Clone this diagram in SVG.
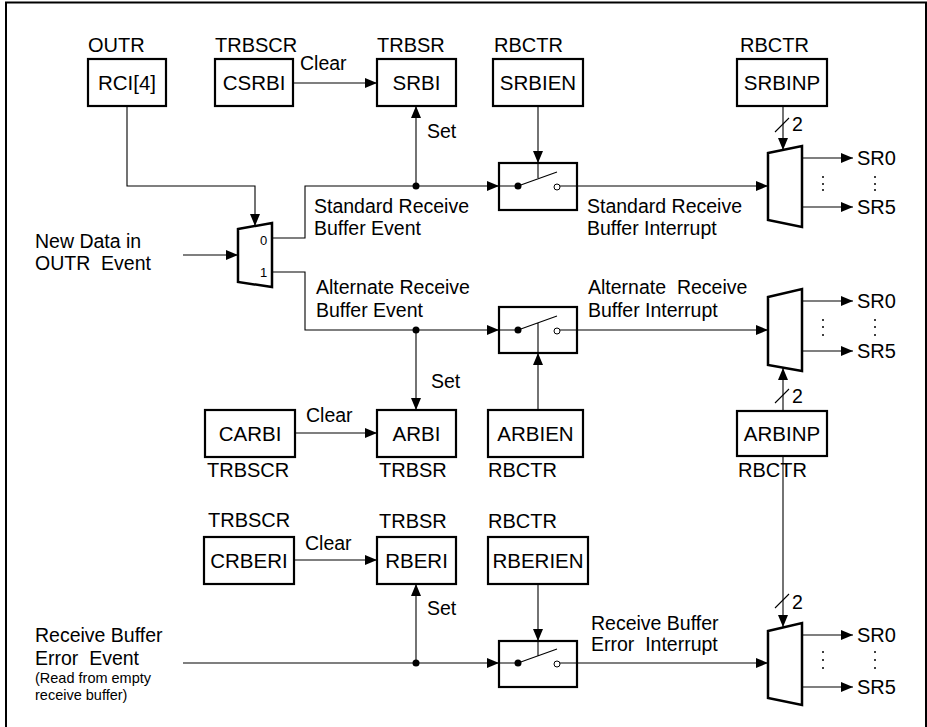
<svg xmlns="http://www.w3.org/2000/svg" width="927" height="727" viewBox="0 0 927 727">
<style>
text{font-family:"Liberation Sans",Arial,sans-serif;font-size:19.5px;fill:#000;white-space:pre}
.c{text-anchor:middle;font-size:20.5px}
.r{font-size:20px}
.s{font-size:14.5px}
.m{font-size:13px}
.box{fill:#fff;stroke:#000;stroke-width:2.2}
.mux{fill:#fff;stroke:#000;stroke-width:2.5;stroke-linejoin:miter}
.ln{fill:none;stroke:#000;stroke-width:1.1}
.ar{fill:none;stroke:#000;stroke-width:1.1;marker-end:url(#ah)}
.dot{fill:#000}
.oc{fill:#fff;stroke:#000;stroke-width:1}
</style>
<defs>
<marker id="ah" viewBox="0 0 12 10" refX="12" refY="5" markerWidth="12" markerHeight="10" markerUnits="userSpaceOnUse" orient="auto">
<path d="M0,0 L12,5 L0,10 z" fill="#000"/>
</marker>
</defs>
<rect x="6" y="2.5" width="920" height="800" fill="#fff" stroke="#000" stroke-width="2"/>

<g id="connectors">
<path class="ar" d="M127,106 V186 H255 V226"/>
<path class="ar" d="M293,83 H377"/>
<path class="ar" d="M272,238 H305 V186 H499"/>
<path class="ar" d="M416,186 V106"/>
<path class="ar" d="M538,106 V163"/>
<path class="ar" d="M560,186 H768"/>
<path class="ar" d="M783,106 V150"/>
<path class="ar" d="M183,255 H238"/>
<path class="ar" d="M272,272 H305 V330 H499"/>
<path class="ar" d="M416,330 V410"/>
<path class="ar" d="M295,433 H377"/>
<path class="ar" d="M538,410 V353"/>
<path class="ar" d="M560,330 H768"/>
<path class="ar" d="M783,411 V368"/>
<path class="ar" d="M783,456 V627"/>
<path class="ar" d="M294,560 H377"/>
<path class="ar" d="M183,663 H499"/>
<path class="ar" d="M416,663 V584"/>
<path class="ar" d="M538,584 V641"/>
<path class="ar" d="M560,663 H768"/>
<path class="ln" d="M775,132 L789,118 M775,403 L789,389 M775,608 L789,594"/>
<circle class="dot" cx="416" cy="186" r="3.5"/>
<circle class="dot" cx="416" cy="330" r="3.5"/>
<circle class="dot" cx="416" cy="663" r="3.5"/>
<text x="300" y="70">Clear</text>
<text x="427" y="138">Set</text>
<text x="306" y="422">Clear</text>
<text x="431" y="388">Set</text>
<text x="305" y="550">Clear</text>
<text x="427" y="615">Set</text>
<text x="792" y="131">2</text>
<text x="792" y="403">2</text>
<text x="792" y="609">2</text>
<text x="314" y="213">Standard Receive</text>
<text x="314" y="235">Buffer Event</text>
<text x="587" y="213">Standard Receive</text>
<text x="587" y="235">Buffer Interrupt</text>
<text x="316" y="294">Alternate Receive</text>
<text x="316" y="317">Buffer Event</text>
<text x="588" y="294">Alternate  Receive</text>
<text x="588" y="317">Buffer Interrupt</text>
<text x="591" y="630">Receive Buffer</text>
<text x="591" y="651">Error  Interrupt</text>
</g>

<g id="input-new-data">
<text x="35" y="248">New Data in</text>
<text x="35" y="270">OUTR  Event</text>
</g>
<g id="input-error">
<text x="35" y="642">Receive Buffer</text>
<text x="35" y="665">Error  Event</text>
<text class="s" x="35" y="683">(Read from empty</text>
<text class="s" x="35" y="700">receive buffer)</text>
</g>

<g id="rci4">
<text class="r" x="88" y="52">OUTR</text>
<rect class="box" x="88" y="59" width="78" height="47"/>
<text class="c" x="127" y="90">RCI[4]</text>
</g>
<g id="csrbi">
<text class="r" x="215" y="52">TRBSCR</text>
<rect class="box" x="215" y="59" width="78" height="47"/>
<text class="c" x="254" y="90">CSRBI</text>
</g>
<g id="srbi">
<text class="r" x="377" y="52">TRBSR</text>
<rect class="box" x="377" y="59" width="79" height="47"/>
<text class="c" x="416.5" y="90">SRBI</text>
</g>
<g id="srbien">
<text class="r" x="494" y="52">RBCTR</text>
<rect class="box" x="493" y="59" width="90" height="47"/>
<text class="c" x="538" y="90">SRBIEN</text>
</g>
<g id="srbinp">
<text class="r" x="740" y="52">RBCTR</text>
<rect class="box" x="737" y="59" width="90" height="47"/>
<text class="c" x="782" y="90">SRBINP</text>
</g>

<g id="mux-in">
<path class="mux" d="M238,229 L272,223 L272,287 L238,282 Z"/>
<text class="m" x="260" y="245">0</text>
<text class="m" x="260" y="277">1</text>
</g>

<g id="switch-std">
<rect class="box" x="499" y="163" width="78" height="47"/>
<path class="ln" d="M499,186 H518 M560,186 H577 M538,163 V178 M518,186 L557,172"/>
<circle class="dot" cx="518" cy="186" r="3.5"/>
<circle class="oc" cx="557" cy="187" r="3"/>
</g>
<g id="switch-alt">
<rect class="box" x="499" y="307" width="78" height="46"/>
<path class="ln" d="M499,330 H518 M560,330 H577 M538,353 V323 M518,330 L557,316"/>
<circle class="dot" cx="518" cy="330" r="3.5"/>
<circle class="oc" cx="557" cy="331" r="3"/>
</g>
<g id="switch-err">
<rect class="box" x="499" y="641" width="78" height="46"/>
<path class="ln" d="M499,663 H518 M560,663 H577 M538,641 V656 M518,663 L557,649"/>
<circle class="dot" cx="518" cy="663" r="3.5"/>
<circle class="oc" cx="557" cy="664" r="3"/>
</g>

<g id="demux-std">
<path class="mux" d="M768,153 L802,146 L802,227 L768,220 Z"/>
<path class="ar" d="M802,158 H853"/>
<path class="ar" d="M802,207 H853"/>
<text class="r" x="857" y="165">SR0</text>
<text class="r" x="857" y="214">SR5</text>
<g class="dot"><circle cx="823" cy="177" r="1"/><circle cx="823" cy="184" r="1"/><circle cx="823" cy="190" r="1"/><circle cx="875" cy="177" r="1"/><circle cx="875" cy="184" r="1"/><circle cx="875" cy="190" r="1"/></g>
</g>
<g id="demux-alt">
<path class="mux" d="M768,297 L802,289 L802,371 L768,365 Z"/>
<path class="ar" d="M802,301 H853"/>
<path class="ar" d="M802,351 H853"/>
<text class="r" x="857" y="308">SR0</text>
<text class="r" x="857" y="358">SR5</text>
<g class="dot"><circle cx="823" cy="320" r="1"/><circle cx="823" cy="327" r="1"/><circle cx="823" cy="335" r="1"/><circle cx="875" cy="320" r="1"/><circle cx="875" cy="327" r="1"/><circle cx="875" cy="335" r="1"/></g>
</g>
<g id="demux-err">
<path class="mux" d="M768,631 L802,623 L802,705 L768,698 Z"/>
<path class="ar" d="M802,635 H853"/>
<path class="ar" d="M802,687 H853"/>
<text class="r" x="857" y="642">SR0</text>
<text class="r" x="857" y="694">SR5</text>
<g class="dot"><circle cx="823" cy="652" r="1"/><circle cx="823" cy="660" r="1"/><circle cx="823" cy="668" r="1"/><circle cx="875" cy="652" r="1"/><circle cx="875" cy="660" r="1"/><circle cx="875" cy="668" r="1"/></g>
</g>

<g id="carbi">
<rect class="box" x="205" y="410" width="90" height="47"/>
<text class="c" x="250" y="441">CARBI</text>
<text class="r" x="207" y="477">TRBSCR</text>
</g>
<g id="arbi">
<rect class="box" x="377" y="410" width="79" height="47"/>
<text class="c" x="416.5" y="441">ARBI</text>
<text class="r" x="379" y="477">TRBSR</text>
</g>
<g id="arbien">
<rect class="box" x="488" y="410" width="95" height="47"/>
<text class="c" x="535.5" y="441">ARBIEN</text>
<text class="r" x="488" y="477">RBCTR</text>
</g>
<g id="arbinp">
<rect class="box" x="737" y="411" width="90" height="45"/>
<text class="c" x="782" y="441">ARBINP</text>
<text class="r" x="738" y="477">RBCTR</text>
</g>

<g id="crberi">
<text class="r" x="208" y="527">TRBSCR</text>
<rect class="box" x="204" y="537" width="90" height="47"/>
<text class="c" x="249" y="568">CRBERI</text>
</g>
<g id="rberi">
<text class="r" x="379" y="528">TRBSR</text>
<rect class="box" x="377" y="537" width="79" height="47"/>
<text class="c" x="416.5" y="568">RBERI</text>
</g>
<g id="rberien">
<text class="r" x="488" y="528">RBCTR</text>
<rect class="box" x="488" y="537" width="100" height="47"/>
<text class="c" x="538" y="568">RBERIEN</text>
</g>
</svg>
